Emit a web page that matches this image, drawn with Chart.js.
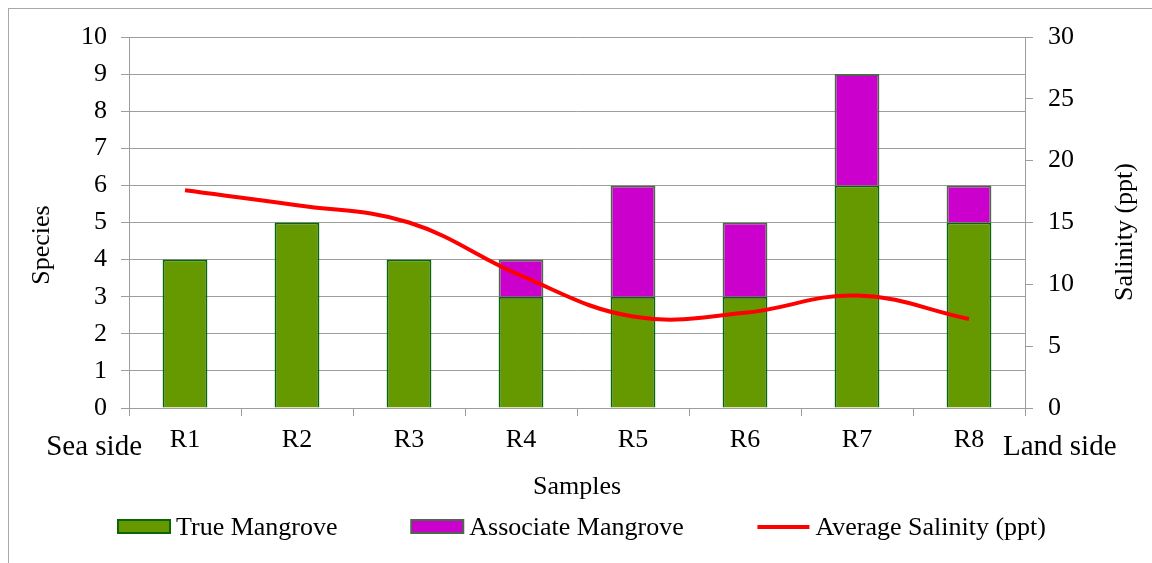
<!DOCTYPE html>
<html>
<head>
<meta charset="utf-8">
<script src="https://cdn.jsdelivr.net/npm/chart.js@4"></script>
<style>
  html, body { margin: 0; padding: 0; background: #fff; overflow: hidden; }
  #wrap { width: 1152px; height: 563px; position: relative; }
</style>
</head>
<body>
<div id="wrap"><canvas id="grafico" width="1152" height="563"></canvas></div>
<script>
// dados
const categorias = ['R1', 'R2', 'R3', 'R4', 'R5', 'R6', 'R7', 'R8'];
const trueMangrove = [4, 5, 4, 3, 3, 3, 6, 5];
const associateMangrove = [0, 0, 0, 1, 3, 2, 3, 1];
const salinidade = [17.6, 16.4, 15.0, 10.7, 7.4, 7.7, 9.1, 7.2];
const speciesTicks = [0, 1, 2, 3, 4, 5, 6, 7, 8, 9, 10];
const salinityTicks = [0, 5, 10, 15, 20, 25, 30];
const sideLabels = ['Sea side', 'Land side'];

const FONTE = "'Liberation Serif', 'Times New Roman', serif";
const GRID = '#9d9d9d';

const extras = {
    id: 'extras',
    beforeDraw(chart) {
        const ctx = chart.ctx;
        ctx.save();
        ctx.strokeStyle = '#a8a8a8';
        ctx.lineWidth = 1;
        ctx.strokeRect(8.5, 8.5, 1400, 800);
        ctx.restore();
    },
    afterDraw(chart) {
        const ctx = chart.ctx, a = chart.chartArea;
        ctx.save();
        ctx.fillStyle = '#000';
        ctx.textBaseline = 'alphabetic';
        // lados (fonte um pouco maior)
        ctx.font = '29px ' + FONTE;
        ctx.textAlign = 'right';
        ctx.fillText(sideLabels[0], a.left + 13, 455);
        ctx.textAlign = 'left';
        ctx.fillText(sideLabels[1], a.right - 22, 455);

        ctx.font = '26px ' + FONTE;
        // titulos verticais
        ctx.textAlign = 'center';
        ctx.textBaseline = 'middle';
        ctx.translate(42, 245);
        ctx.rotate(-Math.PI / 2);
        ctx.fillText('Species', 0, 0);
        ctx.setTransform(1, 0, 0, 1, 0, 0);
        ctx.translate(1125, 232);
        ctx.rotate(-Math.PI / 2);
        ctx.fillText('Salinity (ppt)', 0, 0);
        ctx.setTransform(1, 0, 0, 1, 0, 0);

        // legenda
        const ds = chart.data.datasets;
        const itens = [ds[1], ds[2], ds[0]];
        const boxW = 52, gapTxt = 6;
        const larg = itens.map(d => boxW + gapTxt + ctx.measureText(d.label).width);
        const x0 = 118, x1 = 1046;
        const gap = (x1 - x0 - larg.reduce((s, v) => s + v, 0)) / (itens.length - 1);
        let x = x0;
        const y = 527;
        ctx.textAlign = 'left';
        itens.forEach((d, i) => {
            if (d.type === 'line') {
                ctx.strokeStyle = d.borderColor;
                ctx.lineWidth = 4;
                ctx.beginPath();
                ctx.moveTo(x, y);
                ctx.lineTo(x + boxW, y);
                ctx.stroke();
            } else {
                ctx.fillStyle = d.backgroundColor;
                ctx.fillRect(x, y - 7, boxW, 13);
                ctx.strokeStyle = d.borderColor;
                ctx.lineWidth = 2;
                ctx.strokeRect(x, y - 7, boxW, 13);
            }
            ctx.fillStyle = '#000';
            ctx.fillText(d.label, x + boxW + gapTxt, y + 1);
            x += larg[i] + gap;
        });
        ctx.restore();
    }
};

new Chart(document.getElementById('grafico').getContext('2d'), {
    data: {
        labels: categorias,
        datasets: [
            {
                type: 'line', label: 'Average Salinity (ppt)', data: salinidade, yAxisID: 'y1',
                borderColor: '#ff0000', backgroundColor: '#ff0000', borderWidth: 4,
                pointRadius: 0, tension: 0.4, order: 0
            },
            {
                type: 'bar', label: 'True Mangrove', data: trueMangrove, yAxisID: 'y',
                backgroundColor: '#669900', borderColor: '#0a640a', borderWidth: 2,
                categoryPercentage: 1, barPercentage: 0.4, order: 1
            },
            {
                type: 'bar', label: 'Associate Mangrove', data: associateMangrove, yAxisID: 'y',
                backgroundColor: '#cc00cc', borderColor: '#4f664c', borderWidth: 2,
                categoryPercentage: 1, barPercentage: 0.4, order: 1
            }
        ]
    },
    options: {
        responsive: false,
        animation: false,
        layout: { padding: { left: 0, right: 0, top: 37, bottom: 58 } },
        plugins: { legend: { display: false }, tooltip: { enabled: false } },
        scales: {
            x: {
                stacked: true,
                grid: { drawOnChartArea: false, color: GRID, tickLength: 8, offset: true },
                border: { color: GRID },
                ticks: { color: '#000', font: { family: FONTE, size: 26 }, padding: 9, maxRotation: 0 },
                title: { display: true, text: 'Samples', color: '#000', font: { family: FONTE, size: 26 }, padding: { top: 0, bottom: 2 } },
                afterFit(s) { s.height = 97; }
            },
            y: {
                stacked: true, position: 'left', min: 0, max: 10,
                afterBuildTicks(s) { s.ticks = speciesTicks.map(v => ({ value: v })); },
                grid: { color: GRID, tickLength: 8 },
                border: { color: GRID },
                ticks: { color: '#000', font: { family: FONTE, size: 26 }, padding: 14 },
                afterFit(s) { s.width = 129; }
            },
            y1: {
                position: 'right', min: 0, max: 30,
                afterBuildTicks(s) { s.ticks = salinityTicks.map(v => ({ value: v })); },
                grid: { drawOnChartArea: false, color: GRID, tickLength: 8 },
                border: { color: GRID },
                ticks: { color: '#000', font: { family: FONTE, size: 26 }, padding: 15 },
                afterFit(s) { s.width = 127; }
            }
        }
    },
    plugins: [extras]
});
</script>
</body>
</html>
